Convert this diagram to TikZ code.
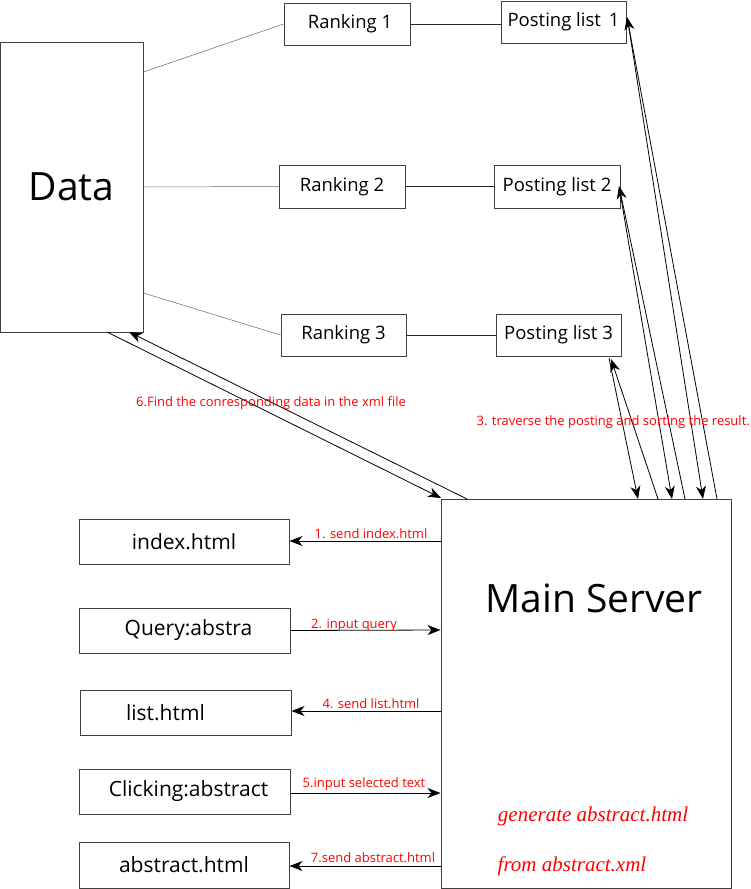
\documentclass[tikz,border=0pt]{standalone}
\usepackage{fontspec}
\setmainfont{Open Sans}
\newfontfamily\serifit{Liberation Serif}
\usetikzlibrary{arrows.meta}
\begin{document}
\begin{tikzpicture}[x=1pt,y=-1pt,
  box/.style={draw=black!75,line width=1pt,inner sep=0pt,font=\fontsize{18.5}{20}\selectfont},
  lbox/.style={box,font=\fontsize{21}{23}\selectfont},
  conn/.style={line width=0.7pt,black!85},
  thin/.style={line width=0.5pt,black!60},
  arr/.style={line width=0.8pt,-{Stealth[length=13pt,width=10pt,inset=4pt]}},
  lab/.style={text=red,font=\fontsize{13}{15}\selectfont,inner sep=0pt}]
\useasboundingbox (0,0) rectangle (750,889);
% Data
\node[box,minimum width=143pt,minimum height=290pt,font=\fontsize{39}{43}\selectfont] (data) at (71.5,187) {Data};
% rankings
\node[box,minimum width=126pt,minimum height=42pt] (r1) at (347,24) {\hspace*{6pt}Ranking 1};
\node[box,minimum width=126pt,minimum height=43pt] (r2) at (342,186.5) {Ranking 2};
\node[box,minimum width=125pt,minimum height=42pt] (r3) at (343.5,335) {Ranking 3};
\node[box,minimum width=125pt,minimum height=42pt] (p1) at (563.5,22) {Posting list\ \,1};
\node[box,minimum width=126pt,minimum height=43pt] (p2) at (557,186.5) {Posting list 2};
\node[box,minimum width=125pt,minimum height=42pt] (p3) at (558.5,335) {Posting list 3};
% Main server
\node[box,minimum width=290pt,minimum height=389pt] (ms) at (586,693.5) {};
\node[font=\fontsize{39}{43}\selectfont,inner sep=0pt] (mst) at (594,598) {Main Server};
\node[text=red,font=\serifit\itshape\fontsize{21}{23}\selectfont,inner sep=0pt] (g1) at (593,816) {generate abstract.html};
\node[text=red,font=\serifit\itshape\fontsize{21}{23}\selectfont,inner sep=0pt] (g2) at (572,866) {from abstract.xml};
% left boxes
\node[lbox,minimum width=210pt,minimum height=45pt] (b1) at (184,541.5) {index.html};
\node[lbox,minimum width=211pt,minimum height=45pt] (b2) at (184.5,630.5) {\hspace*{8pt}Query:abstra};
\node[lbox,minimum width=211pt,minimum height=45pt] (b3) at (185.5,712.5) {\hspace*{-40pt}list.html};
\node[lbox,minimum width=211pt,minimum height=45pt] (b4) at (184.5,791.5) {\hspace*{8pt}Clicking:abstract};
\node[lbox,minimum width=210pt,minimum height=46pt] (b5) at (184,865) {abstract.html};
% data to rankings
\draw[thin] (data.east |- 0,72) -- (r1.west);
\draw[thin] (data.east |- 0,187) -- (r2.west);
\draw[thin] (data.east |- 0,293) -- (r3.west);
\draw[conn] (r1.east) -- (p1.west |- r1.east);
\draw[conn] (r2.east) -- (p2.west);
\draw[conn] (r3.east) -- (p3.west);
% server <-> left boxes
\draw[arr] (ms.west |- 0,541) -- (b1.east |- 0,541);
\draw[arr] (b2.east) -- (ms.west |- 0,630);
\draw[arr] (ms.west |- 0,711) -- (b3.east |- 0,711);
\draw[arr] (b4.east |- 0,793) -- (ms.west |- 0,793);
\draw[arr] (ms.west |- 0,866) -- (b5.east |- 0,866);
\node[lab] (l1) at (371,534) {1. send index.html};
\node[lab] (l2) at (354,625) {2. input query};
\node[lab] (l4) at (371,704) {4. send list.html};
\node[lab] (l5) at (364,784) {5.input selected text};
\node[lab] (l7) at (373,858) {7.send abstract.html};
% data <-> server
\coordinate (d1) at (107,332);
\coordinate (d2) at (129,332);
\coordinate (s1) at (441,498);
\coordinate (s2) at (467,499);
\draw[arr] (d1) -- (s1);
\draw[arr] (s2) -- (d2);
\node[lab] (l6) at (271,403) {6.Find the conresponding data in the xml file};
% server <-> posting lists
\coordinate (sa) at (638,499);
\coordinate (sb) at (658,499);
\coordinate (sc) at (672,499);
\coordinate (sd) at (685,499);
\coordinate (se) at (703,499);
\coordinate (sf) at (717,499);
\coordinate (pa) at (609,358);
\coordinate (pb) at (611,359);
\coordinate (pc) at (620,192);
\coordinate (pd) at (619,186);
\coordinate (pe) at (628,22);
\coordinate (pf) at (627,17);
\draw[arr] (pa) -- (sa);
\draw[arr] (sb) -- (pb);
\draw[arr] (pc) -- (sc);
\draw[arr] (sd) -- (pd);
\draw[arr] (pe) -- (se);
\draw[arr] (sf) -- (pf);
\node[lab,anchor=east] (l3) at (750,422) {3. traverse the posting and sorting the result.};
\end{tikzpicture}
\end{document}
